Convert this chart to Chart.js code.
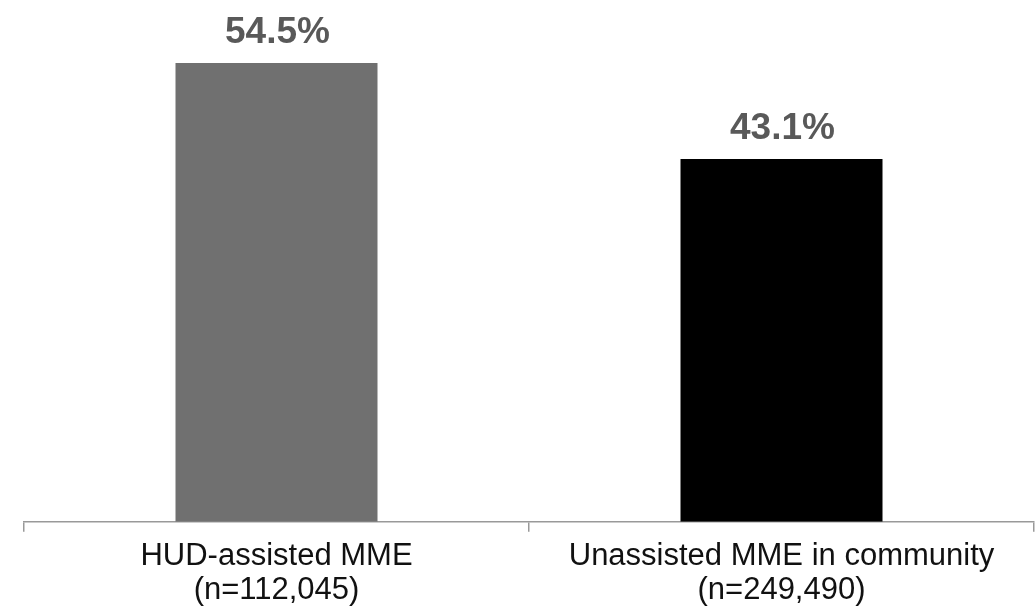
<!DOCTYPE html>
<html>
<head>
<meta charset="utf-8">
<script src="https://cdn.jsdelivr.net/npm/chart.js@4"></script>
<style>
  html, body { margin: 0; padding: 0; background: #ffffff; }
  #wrap { width: 1036px; height: 613px; }
</style>
</head>
<body>
<div id="wrap"><canvas id="c" width="1036" height="613"></canvas></div>
<script>
// Groups, their sample sizes and the share for each (percent)
const groupNames = ["HUD-assisted MME", "Unassisted MME in community"];
const sampleSizes = ["(n=112,045)", "(n=249,490)"];
const shares = [54.5, 43.1];
const barColors = ["#707070", "#000000"];

const FONT = '"Liberation Sans", Arial, Helvetica, sans-serif';

// Two-line category labels: name over sample size
const categoryLabels = groupNames.map((name, i) => [name, sampleSizes[i]]);

// Writes each bar's value above it
const valueLabels = {
  id: 'valueLabels',
  afterDatasetsDraw(chart) {
    const ctx = chart.ctx;
    const meta = chart.getDatasetMeta(0);
    ctx.save();
    ctx.font = 'bold 37px ' + FONT;
    ctx.fillStyle = '#595959';
    ctx.textAlign = 'center';
    ctx.textBaseline = 'alphabetic';
    meta.data.forEach((bar, i) => {
      const v = chart.data.datasets[0].data[i];
      ctx.fillText(v.toFixed(1) + '%', bar.x + 1, bar.y - 20);
    });
    ctx.restore();
  }
};

new Chart(document.getElementById('c'), {
  type: 'bar',
  data: {
    labels: categoryLabels,
    datasets: [{
      data: shares,
      backgroundColor: barColors,
      borderWidth: 0,
      barPercentage: 0.4,
      categoryPercentage: 1.0
    }]
  },
  options: {
    responsive: false,
    animation: false,
    devicePixelRatio: 1,
    layout: { padding: { left: 24, right: 2, top: 0, bottom: -3 } },
    plugins: {
      legend: { display: false },
      tooltip: { enabled: false }
    },
    scales: {
      y: {
        display: false,
        min: 0,
        max: 62
      },
      x: {
        offset: true,
        grid: {
          offset: true,
          drawOnChartArea: false,
          drawTicks: true,
          tickLength: 10,
          color: '#999999',
          lineWidth: 1.5
        },
        border: { display: true, color: '#999999', width: 1.5 },
        ticks: {
          color: '#111111',
          padding: 8,
          maxRotation: 0,
          autoSkip: false,
          font: { family: FONT, size: 31, lineHeight: 1.1 }
        }
      }
    }
  },
  plugins: [valueLabels]
});
</script>
</body>
</html>
